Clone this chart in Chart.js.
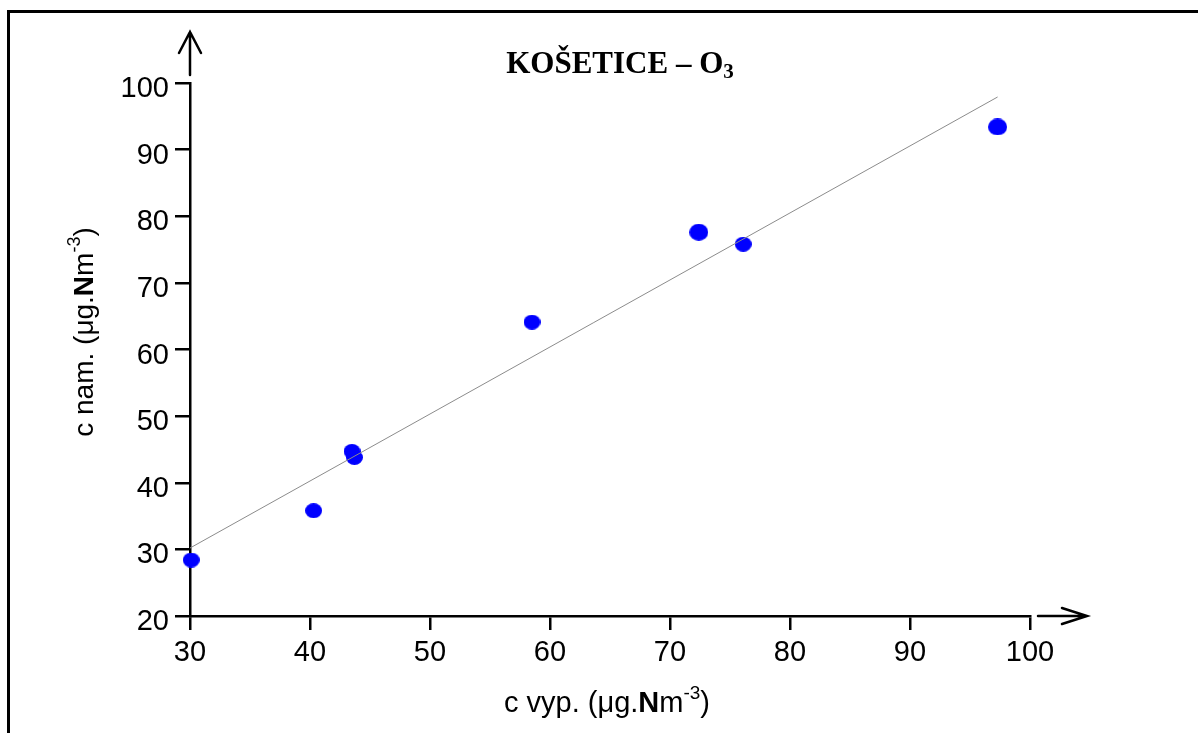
<!DOCTYPE html>
<html>
<head>
<meta charset="utf-8">
<script src="https://cdn.jsdelivr.net/npm/chart.js@4"></script>
<style>
  body { margin: 0; background: #fff; }
  #wrap { width: 1198px; height: 733px; }
</style>
</head>
<body>
<div id="wrap"><canvas id="ozoneChart" width="1198" height="733"></canvas></div>
<script>
// measured points (c vyp. vs c nam.)
const calcValues = [30.1, 40.3, 43.5, 43.7, 58.5, 72.4, 76.1, 97.3];
const measValues = [28.4, 35.8, 44.7, 43.8, 64.1, 77.6, 75.8, 93.4];
const bigPoint = [false, false, false, false, false, true, false, true];

// regression line end points
const fitX = [30, 97.3];
const fitY = [30.2, 97.9];

const xTicks = [30, 40, 50, 60, 70, 80, 90, 100];
const yTicks = [20, 30, 40, 50, 60, 70, 80, 90, 100];

function makeDot(w, h) {
    const c = document.createElement("canvas");
    c.width = w;
    c.height = h;
    const g = c.getContext("2d");
    g.fillStyle = "#0000ff";
    g.beginPath();
    g.ellipse(w / 2, h / 2, w / 2, h / 2, 0, 0, Math.PI * 2);
    g.fill();
    return c;
}
const smallDot = makeDot(17, 15);
const largeDot = makeDot(19, 17);

// draw text made of pieces (for sub/superscripts)
function drawRich(ctx, parts, x, y) {
    let total = 0;
    parts.forEach(p => { ctx.font = p.font; total += ctx.measureText(p.text).width; });
    let cx = x - total / 2;
    parts.forEach(p => {
        ctx.font = p.font;
        ctx.fillText(p.text, cx, y + (p.dy || 0));
        cx += ctx.measureText(p.text).width;
    });
}

function unitLabel(prefix, size) {
    const f = size + "px 'Liberation Sans'";
    return [
        { text: prefix + " (μg.", font: f },
        { text: "N", font: "bold " + f },
        { text: "m", font: f },
        { text: "-3", font: Math.round(size * 0.66) + "px 'Liberation Sans'", dy: -Math.round(size * 0.45) },
        { text: ")", font: f }
    ];
}

const extras = {
    id: "extras",
    beforeDraw(chart) {
        const ctx = chart.ctx;
        ctx.save();
        ctx.fillStyle = "#fff";
        ctx.fillRect(0, 0, chart.width, chart.height);
        // frame (only top and left are visible)
        ctx.strokeStyle = "#000";
        ctx.lineWidth = 3;
        ctx.beginPath();
        ctx.moveTo(8.5, 740);
        ctx.lineTo(8.5, 11.5);
        ctx.lineTo(1210, 11.5);
        ctx.stroke();
        ctx.restore();
    },
    afterDraw(chart) {
        const ctx = chart.ctx;
        const a = chart.chartArea;
        ctx.save();
        ctx.strokeStyle = "#000";
        ctx.lineWidth = 2.5;
        ctx.lineCap = "round";
        // y arrow
        ctx.beginPath();
        ctx.moveTo(a.left, a.top - 8);
        ctx.lineTo(a.left, a.top - 51);
        ctx.moveTo(a.left - 11, a.top - 30);
        ctx.lineTo(a.left, a.top - 51);
        ctx.lineTo(a.left + 11, a.top - 30);
        ctx.stroke();
        // x arrow
        ctx.beginPath();
        ctx.moveTo(a.right + 8, a.bottom);
        ctx.lineTo(a.right + 57, a.bottom);
        ctx.moveTo(a.right + 32, a.bottom - 8);
        ctx.lineTo(a.right + 57, a.bottom);
        ctx.lineTo(a.right + 32, a.bottom + 8);
        ctx.stroke();

        ctx.fillStyle = "#000";
        ctx.textBaseline = "alphabetic";
        // title
        drawRich(ctx, [
            { text: "KOŠETICE – O", font: "bold 31px 'Liberation Serif'" },
            { text: "3", font: "bold 21px 'Liberation Serif'", dy: 5 }
        ], 620, 73);

        drawRich(ctx, unitLabel("c vyp.", 29), 607, 712);

        ctx.translate(93, 332);
        ctx.rotate(-Math.PI / 2);
        drawRich(ctx, unitLabel("c nam.", 28), 0, 0);
        ctx.restore();
    }
};

new Chart(document.getElementById("ozoneChart"), {
    type: "scatter",
    data: {
        datasets: [
            {
                type: "line",
                label: "fit",
                data: fitX.map((x, i) => ({ x: x, y: fitY[i] })),
                borderColor: "#8c8c8c",
                borderWidth: 1,
                pointRadius: 0,
                fill: false,
                order: 0
            },
            {
                label: "O3",
                data: calcValues.map((x, i) => ({ x: x, y: measValues[i] })),
                pointStyle: bigPoint.map(b => b ? largeDot : smallDot),
                pointRadius: 8,
                clip: false,
                order: 1
            }
        ]
    },
    plugins: [extras],
    options: {
        responsive: false,
        animation: false,
        layout: { padding: { top: 83, right: 168, left: 0, bottom: 0 } },
        plugins: {
            legend: { display: false },
            tooltip: { enabled: false }
        },
        scales: {
            x: {
                type: "linear",
                min: 30,
                max: 100,
                afterBuildTicks: s => { s.ticks = xTicks.map(v => ({ value: v })); },
                afterFit: s => { s.height = 117; },
                border: { display: true, color: "#000", width: 2.5 },
                grid: { drawOnChartArea: false, drawTicks: true, tickLength: 14, color: "#000", lineWidth: 2.5 },
                ticks: { color: "#000", font: { family: "'Liberation Sans'", size: 29 }, padding: 6, maxRotation: 0 }
            },
            y: {
                type: "linear",
                min: 20,
                max: 100,
                afterBuildTicks: s => { s.ticks = yTicks.map(v => ({ value: v })); },
                afterFit: s => { s.width = 190; },
                border: { display: true, color: "#000", width: 2.5 },
                grid: { drawOnChartArea: false, drawTicks: true, tickLength: 15, color: "#000", lineWidth: 2.5 },
                ticks: { color: "#000", font: { family: "'Liberation Sans'", size: 29 }, padding: 6, labelOffset: 6 }
            }
        }
    }
});
</script>
</body>
</html>
